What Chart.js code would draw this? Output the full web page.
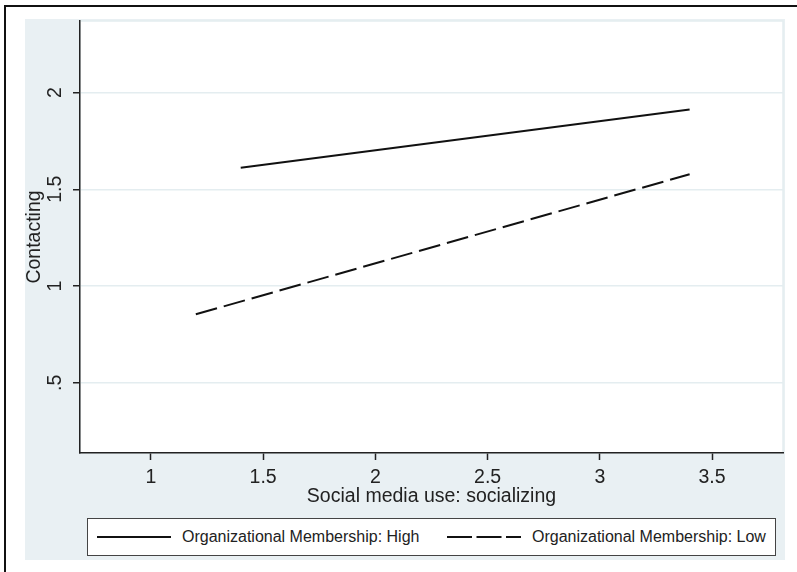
<!DOCTYPE html>
<html>
<head>
<meta charset="utf-8">
<script src="https://cdn.jsdelivr.net/npm/chart.js@4"></script>
<style>
  html, body { margin: 0; padding: 0; background: #fff; }
  #wrap { position: relative; width: 797px; height: 572px; overflow: hidden; font-family: "Liberation Sans", Arial, sans-serif; }
  #chart { position: absolute; left: 0; top: 0; }
  #frame { position: absolute; left: 4px; top: 5px; width: 800px; height: 600px; border-left: 2px solid #111; border-top: 2px solid #111; }
  #legend { position: absolute; left: 87px; top: 518px; width: 687px; height: 36px; border: 1px solid #444; background: #fff; }
  #legend .item { position: absolute; top: 0; height: 36px; display: flex; align-items: center; font-size: 16px; color: #222; white-space: nowrap; }
  #legend svg { margin-right: 11px; }
</style>
</head>
<body>
<div id="wrap">
  <canvas id="chart" width="797" height="572"></canvas>
  <div id="frame"></div>
  <div id="legend"></div>
</div>
<script>
// Fitted values (two end points per line)
const highX = [1.4, 3.4];
const highY = [1.612, 1.913];
const lowX = [1.2, 3.4];
const lowY = [0.854, 1.578];

const seriesLabels = ["Organizational Membership: High", "Organizational Membership: Low"];

// Axis ticks
const xTicks = [1, 1.5, 2, 2.5, 3, 3.5];
const xTickLabels = ["1", "1.5", "2", "2.5", "3", "3.5"];
const yTicks = [0.5, 1, 1.5, 2];
const yTickLabels = [".5", "1", "1.5", "2"];

const darkInk = '#222';
const bgLight = '#e9f0f3';
const gridLight = '#e4edf0';
const fontFamily = '"Liberation Sans", Arial, sans-serif';
const axisFont = { family: fontFamily, size: 19.5 };

// Paint the light graph region and the white plot region behind everything
const backdropPlugin = {
  id: 'backdrop',
  beforeDraw(chart) {
    const ctx = chart.ctx;
    const area = chart.chartArea;
    ctx.save();
    ctx.fillStyle = '#fff';
    ctx.fillRect(0, 0, chart.width, chart.height);
    ctx.fillStyle = bgLight;
    ctx.fillRect(25, 19, 760, 541);
    ctx.fillStyle = '#fff';
    ctx.fillRect(area.left, area.top, area.right - area.left, area.bottom - area.top);
    ctx.strokeStyle = gridLight;
    ctx.lineWidth = 1.5;
    ctx.strokeRect(area.left, area.top, area.right - area.left, area.bottom - area.top);
    ctx.restore();
  }
};

const ctx = document.getElementById('chart').getContext('2d');
new Chart(ctx, {
  type: 'line',
  data: {
    datasets: [
      {
        label: seriesLabels[0],
        data: highX.map((x, i) => ({ x: x, y: highY[i] })),
        borderColor: '#111',
        borderWidth: 2,
        pointRadius: 0,
        fill: false
      },
      {
        label: seriesLabels[1],
        data: lowX.map((x, i) => ({ x: x, y: lowY[i] })),
        borderColor: '#111',
        borderWidth: 2,
        borderDash: [22, 7],
        pointRadius: 0,
        fill: false
      }
    ]
  },
  options: {
    responsive: false,
    animation: false,
    devicePixelRatio: 1,
    layout: { padding: { left: 0, top: 21, right: 14, bottom: 64 } },
    plugins: {
      legend: { display: false },
      tooltip: { enabled: false }
    },
    scales: {
      x: {
        type: 'linear',
        position: 'bottom',
        min: 0.684,
        max: 3.816,
        afterBuildTicks: (scale) => { scale.ticks = xTicks.map(v => ({ value: v })); },
        afterFit: (scale) => { scale.height = 55; scale.paddingLeft = 0; scale.paddingRight = 0; },
        grid: { drawOnChartArea: false, drawTicks: true, tickLength: 7, tickColor: darkInk, tickWidth: 1.5 },
        border: { color: darkInk, width: 1.5 },
        ticks: {
          font: axisFont,
          color: darkInk,
          padding: 6,
          maxRotation: 0,
          autoSkip: false,
          callback: (value) => {
            const i = xTicks.indexOf(value);
            return i >= 0 ? xTickLabels[i] : '';
          }
        },
        title: {
          display: true,
          text: 'Social media use: socializing',
          font: axisFont,
          color: darkInk,
          padding: 0
        }
      },
      y: {
        type: 'linear',
        min: 0.137,
        max: 2.37,
        afterBuildTicks: (scale) => { scale.ticks = yTicks.map(v => ({ value: v })); },
        afterFit: (scale) => { scale.width = 80; scale.paddingTop = 0; scale.paddingBottom = 0; },
        grid: { color: gridLight, lineWidth: 1.5, tickLength: 7, tickColor: darkInk, tickWidth: 1.5 },
        border: { color: darkInk, width: 1.5 },
        ticks: {
          font: axisFont,
          color: darkInk,
          padding: 3.5,
          minRotation: 90,
          maxRotation: 90,
          crossAlign: 'center',
          autoSkip: false,
          callback: (value) => {
            const i = yTicks.indexOf(value);
            return i >= 0 ? yTickLabels[i] : '';
          }
        },
        title: {
          display: true,
          text: 'Contacting',
          font: axisFont,
          color: darkInk,
          padding: { top: 23, bottom: 0 }
        }
      }
    }
  },
  plugins: [backdropPlugin]
});

// Stata-style legend box below the plot
function buildLegend() {
  const legend = document.getElementById('legend');
  const items = [
    { left: 9, label: seriesLabels[0], dash: '' },
    { left: 359, label: seriesLabels[1], dash: '25 4.5' }
  ];
  items.forEach(item => {
    const div = document.createElement('div');
    div.className = 'item';
    div.style.left = item.left + 'px';
    div.innerHTML = `
      <svg width="74" height="4"><line x1="0" y1="2" x2="74" y2="2" stroke="#111" stroke-width="2"
        ${item.dash ? `stroke-dasharray="${item.dash}"` : ''}/></svg>
      <span>${item.label}</span>
    `;
    legend.appendChild(div);
  });
}
buildLegend();
</script>
</body>
</html>
